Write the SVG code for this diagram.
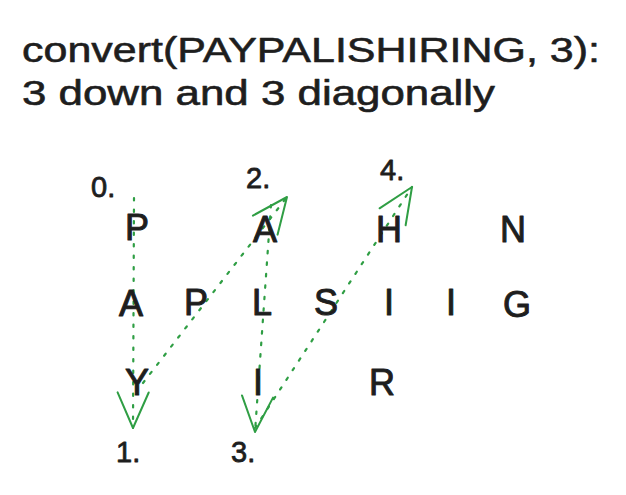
<svg xmlns="http://www.w3.org/2000/svg" width="626" height="495" viewBox="0 0 626 495">
<style>
.t{font-family:"Liberation Sans","Open Sans",sans-serif;fill:#1e1e1e;stroke:#1e1e1e;stroke-linejoin:round}
.title{font-size:35px;stroke-width:0.6}
.ch{font-size:36px;text-anchor:middle;stroke-width:1}
.num{font-size:29px;stroke-width:0.8}
.c{fill:none;stroke:#2f9e44;stroke-width:2.2;stroke-dasharray:2.5 9;stroke-linecap:round}
.h{fill:none;stroke:#2f9e44;stroke-width:1.8;stroke-linecap:round;stroke-linejoin:round}
</style>
<defs>
<marker id="ah" markerUnits="userSpaceOnUse" orient="auto" refX="0" refY="0" markerWidth="50" markerHeight="50" viewBox="-40 -20 45 40" overflow="visible">
<path class="h" d="M -32 -14 L 0 0 L -32 14"/>
</marker>
</defs>
<rect width="626" height="495" fill="#ffffff"/>
<g id="title">
<text class="t title" x="22" y="62" textLength="578" lengthAdjust="spacingAndGlyphs">convert(PAYPALISHIRING, 3):</text>
<text class="t title" x="22" y="105" textLength="473" lengthAdjust="spacingAndGlyphs">3 down and 3 diagonally</text>
</g>
<g id="connectors">
<path class="c" d="M134 198 L133 428" marker-end="url(#ah)"/>
<path class="c" d="M143 383 L287 197" marker-end="url(#ah)"/>
<path class="c" d="M271 205 L255 432" marker-end="url(#ah)"/>
<path class="c" d="M255 428 L412 187" marker-end="url(#ah)"/>
</g>
<g id="labels">
<text id="n0" class="t num" x="91" y="197">0.</text>
<text id="n2" class="t num" x="246" y="188">2.</text>
<text id="n4" class="t num" x="380" y="180">4.</text>
<text id="n1" class="t num" x="116" y="462">1.</text>
<text id="n3" class="t num" x="231" y="462">3.</text>
</g>
<g id="row1">
<text id="r1c1" class="t ch" x="137" y="240">P</text>
<text id="r1c2" class="t ch" x="265" y="242">A</text>
<text id="r1c3" class="t ch" x="389" y="242">H</text>
<text id="r1c4" class="t ch" x="513" y="242">N</text>
</g>
<g id="row2">
<text id="r2c1" class="t ch" x="131" y="316">A</text>
<text id="r2c2" class="t ch" x="196" y="315">P</text>
<text id="r2c3" class="t ch" x="262" y="315">L</text>
<text id="r2c4" class="t ch" x="326" y="315">S</text>
<text id="r2c5" class="t ch" x="389" y="315">I</text>
<text id="r2c6" class="t ch" x="451" y="315">I</text>
<text id="r2c7" class="t ch" x="517" y="317">G</text>
</g>
<g id="row3">
<text id="r3c1" class="t ch" x="137" y="395">Y</text>
<text id="r3c2" class="t ch" x="258" y="395">I</text>
<text id="r3c3" class="t ch" x="382" y="395">R</text>
</g>
</svg>
